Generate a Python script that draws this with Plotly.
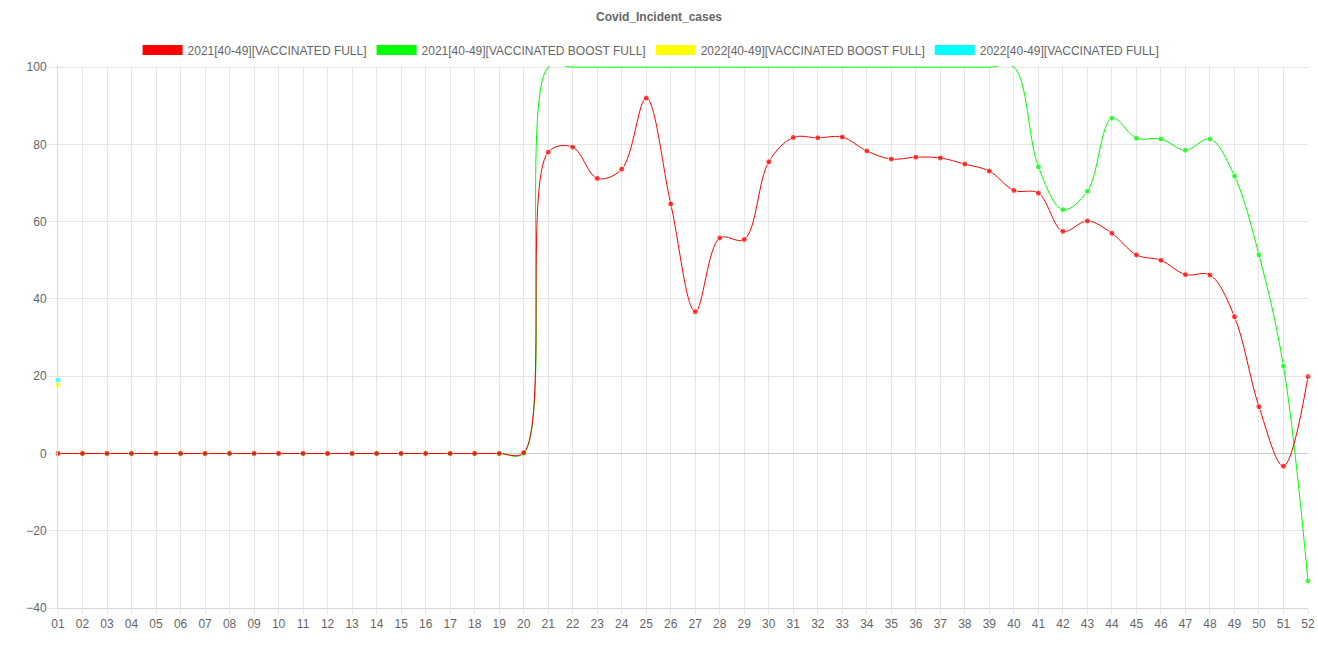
import plotly.graph_objects as go

weeks = ["01", "02", "03", "04", "05", "06", "07", "08", "09", "10",
         "11", "12", "13", "14", "15", "16", "17", "18", "19", "20",
         "21", "22", "23", "24", "25", "26", "27", "28", "29", "30",
         "31", "32", "33", "34", "35", "36", "37", "38", "39", "40",
         "41", "42", "43", "44", "45", "46", "47", "48", "49", "50",
         "51", "52"]

red_2021_full = [0, 0, 0, 0, 0, 0, 0, 0, 0, 0,
                 0, 0, 0, 0, 0, 0, 0, 0, 0, 0.2,
                 78.0, 79.3, 71.2, 73.6, 92.0, 64.6, 36.7, 55.8, 55.4, 75.5,
                 81.8, 81.7, 81.9, 78.3, 76.2, 76.7, 76.5, 74.9, 73.1, 68.1,
                 67.4, 57.5, 60.2, 57.0, 51.4, 50.0, 46.3, 46.2, 35.4, 12.1,
                 -3.3, 19.9]

green_2021_boost = [0, 0, 0, 0, 0, 0, 0, 0, 0, 0,
                    0, 0, 0, 0, 0, 0, 0, 0, 0, 0,
                    100, 100, 100, 100, 100, 100, 100, 100, 100, 100,
                    100, 100, 100, 100, 100, 100, 100, 100, 100, 100,
                    74.2, 63.1, 67.9, 86.8, 81.6, 81.4, 78.5, 81.4, 71.8, 51.4,
                    22.6, -33.0]

yellow_2022_boost = [17.7]
cyan_2022_full = [19.0]

names = ["2021[40-49][VACCINATED FULL]", "2021[40-49][VACCINATED BOOST FULL]",
         "2022[40-49][VACCINATED BOOST FULL]", "2022[40-49][VACCINATED FULL]"]
colors = ["#ff0000", "#00ff00", "#ffff00", "#00ffff"]

Y_MAX = 100
Y_MIN = -40

fig = go.Figure()

# legend-only entries (filled boxes like the original)
for n, c in zip(names, colors):
    fig.add_trace(go.Scatter(x=[None], y=[None], mode="lines", name=n,
                             line=dict(color=c, width=13), showlegend=True,
                             hoverinfo="skip"))

series = [(weeks[:1], cyan_2022_full, colors[3]),
          (weeks[:1], yellow_2022_boost, colors[2]),
          (weeks, green_2021_boost, colors[1]),
          (weeks, red_2021_full, colors[0])]
for xs, ys, c in series:
    sizes = [0 if v >= Y_MAX else 6 for v in ys]
    fig.add_trace(go.Scatter(x=xs, y=ys, mode="lines+markers", showlegend=False,
                             line=dict(color=c, width=1, shape="spline", smoothing=1),
                             marker=dict(color=c, size=sizes),
                             cliponaxis=False))

fig.update_layout(
    width=1318, height=659,
    paper_bgcolor="white", plot_bgcolor="white",
    margin=dict(l=58, r=10, t=66, b=51, autoexpand=False),
    font=dict(family="Liberation Sans, Arial, sans-serif", size=12, color="#666666"),
    title=dict(text="<b>Covid_Incident_cases</b>", x=0.5, xref="container",
               y=1 - 17 / 659, yref="container", yanchor="middle",
               font=dict(size=12, color="#666666")),
    legend=dict(orientation="h", xref="container", yref="container",
                x=0.494, xanchor="center", y=1 - 50 / 659, yanchor="middle",
                font=dict(size=12, color="#666666"), itemwidth=40,
                traceorder="normal"),
    showlegend=True,
)

fig.update_xaxes(type="category", categoryorder="array", categoryarray=weeks,
                 range=[0, len(weeks) - 1], automargin=False,
                 showgrid=True, gridcolor="#e6e6e6", gridwidth=1,
                 showline=True, linecolor="#d9d9d9", linewidth=1,
                 ticks="outside", ticklen=5, tickcolor="#e6e6e6",
                 tickfont=dict(size=12, color="#666666"), zeroline=False)
fig.update_yaxes(range=[Y_MIN, Y_MAX + 0.3], tickvals=[-40, -20, 0, 20, 40, 60, 80, 100],
                 automargin=False,
                 showgrid=True, gridcolor="#e6e6e6", gridwidth=1,
                 showline=True, linecolor="#d9d9d9", linewidth=1,
                 ticks="outside", ticklen=8, tickcolor="#e6e6e6",
                 zeroline=True, zerolinecolor="#cccccc", zerolinewidth=1,
                 tickfont=dict(size=12, color="#666666"))

fig.write_html("out.html", config={"displayModeBar": False},
               post_script="document.body.style.margin='0';document.body.style.overflow='hidden';")
